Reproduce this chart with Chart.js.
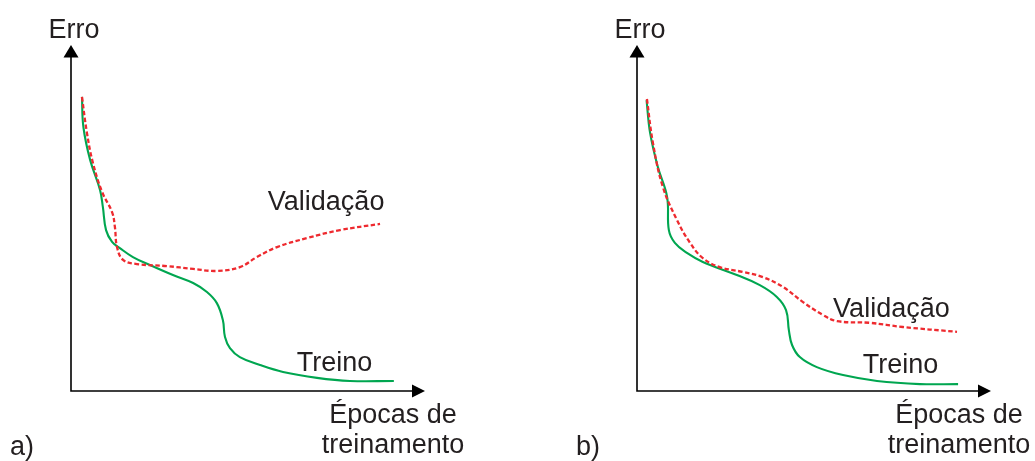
<!DOCTYPE html>
<html>
<head>
<meta charset="utf-8">
<script src="https://cdn.jsdelivr.net/npm/chart.js@4/dist/chart.umd.min.js"></script>
<style>
  html, body { margin: 0; padding: 0; background: #fff; }
  #wrap { position: relative; width: 1035px; height: 461px; overflow: hidden; }
  #wrap canvas { position: absolute; top: 0; }
</style>
</head>
<body>
<div id="wrap">
  <canvas id="panelA" width="566" height="461" style="left:0"></canvas>
  <canvas id="panelB" width="469" height="461" style="left:566px"></canvas>
</div>
<script>
// Epochs (x) and error (y), both on a 0–100 schematic scale.

// a) overfitting: validation error rises again
const epochsTrainA = [3.1, 3.5, 5.4, 8.2, 9.0, 9.9, 11.6, 13.8, 17.5, 22.3, 28.8, 34.5, 38.4, 41.2, 42.9, 43.5, 44.9, 47.7, 53.4, 59.9, 69.5, 78.8, 91.2];
const errorTrainA  = [85.0, 76.3, 66.8, 58.1, 53.2, 46.5, 43.1, 41.3, 38.7, 36.4, 33.5, 31.2, 28.6, 25.4, 20.5, 15.6, 12.4, 9.8, 7.5, 5.5, 3.8, 2.9, 2.9];
const epochsValA   = [3.1, 4.5, 6.2, 8.8, 11.6, 12.4, 13.0, 14.7, 18.6, 27.1, 34.5, 41.2, 47.7, 52.5, 58.2, 66.7, 76.0, 87.3];
const errorValA    = [85.0, 74.6, 65.9, 57.5, 51.7, 47.4, 41.6, 37.9, 36.7, 36.1, 35.3, 34.7, 35.8, 38.7, 41.6, 44.2, 46.5, 48.3];

// b) good generalisation: validation error keeps falling
const epochsTrainB = [2.7, 3.7, 5.9, 8.5, 9.0, 10.7, 14.1, 18.6, 28.2, 34.7, 39.5, 42.1, 42.9, 43.8, 46.0, 50.8, 58.2, 67.8, 79.9, 90.7];
const errorTrainB  = [84.1, 74.6, 64.7, 56.1, 46.5, 42.8, 39.9, 37.3, 33.5, 30.6, 27.2, 23.4, 17.6, 13.3, 9.8, 6.9, 4.6, 2.9, 2.0, 2.0];
const epochsValB   = [2.8, 4.5, 7.3, 11.3, 15.0, 18.6, 23.4, 29.9, 35.6, 41.2, 46.9, 52.5, 56.5, 65.8, 75.1, 90.4];
const errorValB    = [84.4, 71.7, 59.0, 49.4, 42.8, 38.4, 35.8, 34.4, 32.9, 30.1, 25.7, 22.0, 20.2, 19.7, 18.5, 17.1];

// Text drawn on the figure
const axisY = 'Erro';
const axisX = ['Épocas de', 'treinamento'];
const nameVal = 'Validação';
const nameTrain = 'Treino';

const INK = '#231f20';
const GREEN = '#00a650';
const RED = '#ee2a2f';
const FONT = '27px "Liberation Sans", Arial, sans-serif';

function pts(xs, ys) { return xs.map((x, i) => ({ x, y: ys[i] })); }

// Axes with arrowheads plus the text labels
const schematic = {
  id: 'schematic',
  afterDatasetsDraw(chart, args, opts) {
    const { ctx, scales: { x, y } } = chart;
    const x0 = x.getPixelForValue(0), x1 = x.getPixelForValue(100);
    const y0 = y.getPixelForValue(0), y1 = y.getPixelForValue(100);
    ctx.save();
    ctx.strokeStyle = '#000';
    ctx.fillStyle = '#000';
    ctx.lineWidth = 1.6;
    ctx.beginPath();
    ctx.moveTo(x0, y1 + 10);
    ctx.lineTo(x0, y0);
    ctx.lineTo(x1 - 10, y0);
    ctx.stroke();
    // y arrowhead
    ctx.beginPath();
    ctx.moveTo(x0, y1);
    ctx.lineTo(x0 - 7.5, y1 + 12.5);
    ctx.lineTo(x0 + 7.5, y1 + 12.5);
    ctx.closePath();
    ctx.fill();
    // x arrowhead
    ctx.beginPath();
    ctx.moveTo(x1, y0);
    ctx.lineTo(x1 - 13, y0 - 6.5);
    ctx.lineTo(x1 - 13, y0 + 6.5);
    ctx.closePath();
    ctx.fill();

    ctx.fillStyle = INK;
    ctx.font = FONT;
    ctx.textBaseline = 'alphabetic';
    ctx.textAlign = 'center';
    ctx.fillText(axisY, x0 + 3, y1 - 7);
    ctx.fillText(axisX[0], x1 - 32, y0 + 32);
    ctx.fillText(axisX[1], x1 - 32, y0 + 62);
    ctx.textAlign = 'left';
    ctx.fillText(opts.panel, 10, y0 + 64);
    ctx.fillText(nameVal, x.getPixelForValue(opts.val[0]), y.getPixelForValue(opts.val[1]));
    ctx.fillText(nameTrain, x.getPixelForValue(opts.train[0]), y.getPixelForValue(opts.train[1]));
    ctx.restore();
  }
};

function makePanel(id, width, trainPts, valPts, panel, valAt, trainAt) {
  return new Chart(document.getElementById(id), {
    type: 'line',
    data: {
      datasets: [
        {
          label: nameVal,
          data: valPts,
          borderColor: RED,
          borderWidth: 2.3,
          borderDash: [4.5, 2.5],
          pointRadius: 0,
          tension: 0.4,
          fill: false
        },
        {
          label: nameTrain,
          data: trainPts,
          borderColor: GREEN,
          borderWidth: 2.1,
          pointRadius: 0,
          tension: 0.4,
          fill: false
        }
      ]
    },
    options: {
      responsive: false,
      animation: false,
      devicePixelRatio: 1,
      layout: { padding: { left: 71, top: 45, right: width - 425, bottom: 70 } },
      scales: {
        x: { type: 'linear', min: 0, max: 100, display: false },
        y: { type: 'linear', min: 0, max: 100, display: false }
      },
      plugins: {
        legend: { display: false },
        tooltip: { enabled: false },
        schematic: { panel, val: valAt, train: trainAt }
      }
    },
    plugins: [schematic]
  });
}

makePanel('panelA', 566, pts(epochsTrainA, errorTrainA), pts(epochsValA, errorValA), 'a)', [55.6, 52.3], [63.8, 5.8]);
makePanel('panelB', 469, pts(epochsTrainB, errorTrainB), pts(epochsValB, errorValB), 'b)', [55.4, 21.4], [63.8, 5.2]);
</script>
</body>
</html>
